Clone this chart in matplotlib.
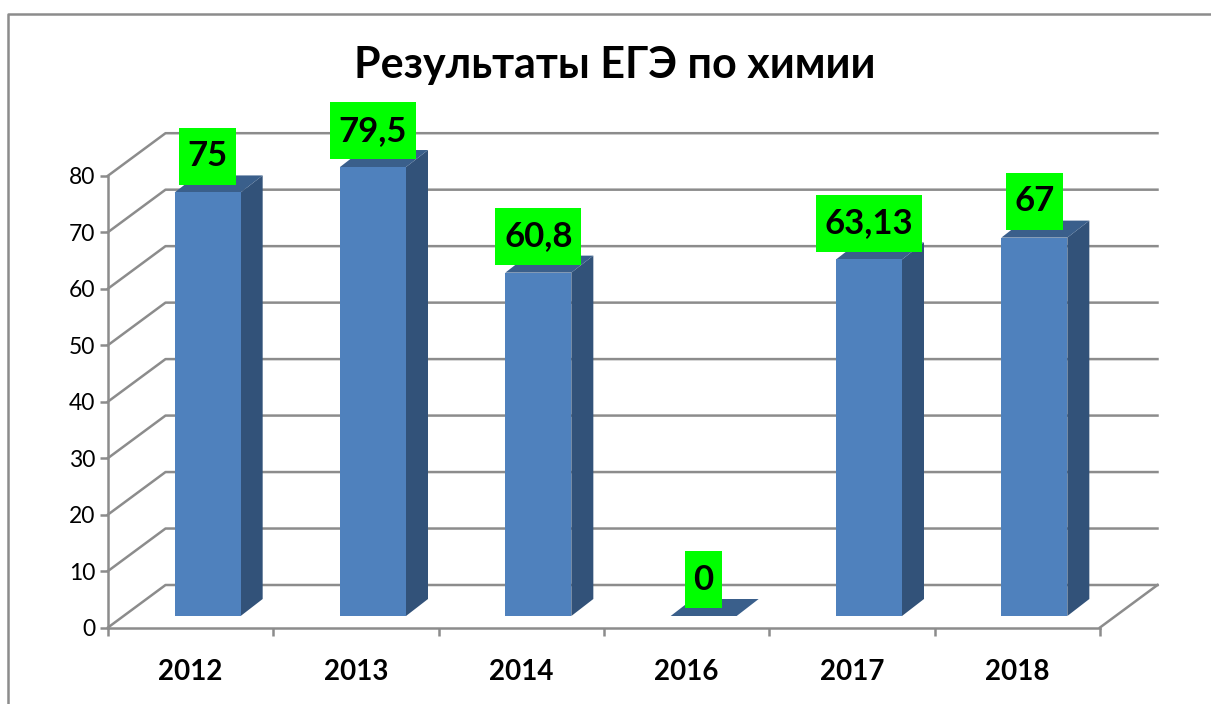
import numpy as np
import matplotlib.pyplot as plt
from matplotlib.patches import Polygon
from matplotlib.lines import Line2D

plt.rcParams['font.family'] = ['Lato', 'Open Sans', 'DejaVu Sans']

years = ['2012', '2013', '2014', '2016', '2017', '2018']
scores = [75, 79.5, 60.8, 0, 63.13, 67]
score_labels = ['75', '79,5', '60,8', '0', '63,13', '67']
yticks = [0, 10, 20, 30, 40, 50, 60, 70, 80]

W, H = 1211, 704
grey = '#8c8c8c'
front = '#4f81bd'
side = '#325279'
top = '#3a5f8b'

# axes box in pixels, everything inside goes through the data scale
left, right = 108, 1100
y0, y80 = 627.5, 175.7

fig = plt.figure(figsize=(W/100, H/100), dpi=100)
ax = fig.add_axes([left/W, 1-y0/H, (right-left)/W, (y0-y80)/H])
ax.set_xlim(0, 6)
ax.set_ylim(0, 80)
ax.patch.set_visible(False)

xunit = (right-left)/6.0
yunit = (y0-y80)/80.0

# depth of the fake 3d box
wall_dx = 57.5/xunit
wall_dy = 42.5/yunit
bar_dx = 22/xunit
bar_dy = 17/yunit
lift_dx = 17/xunit
lift_dy = 11.5/yunit
bar_w = 66/xunit

# back wall grid
for v in yticks:
    ax.plot([0, wall_dx, 6+wall_dx], [v, v+wall_dy, v+wall_dy], color=grey, lw=1.8, clip_on=False, zorder=1)
ax.plot([6, 6+wall_dx], [0, wall_dy], color=grey, lw=1.8, clip_on=False, zorder=1)

# bars
xs = np.arange(6)+0.5+lift_dx
hs = np.array(scores)
for x, h in zip(xs, hs):
    x0 = x-bar_w/2
    x1 = x+bar_w/2
    b = lift_dy
    t = b+h
    ax.add_patch(Polygon([[x1, b], [x1+bar_dx, b+bar_dy], [x1+bar_dx, t+bar_dy], [x1, t]],
                         fc=side, ec='none', clip_on=False, zorder=3))
    ax.add_patch(Polygon([[x0, t], [x1, t], [x1+bar_dx, t+bar_dy], [x0+bar_dx, t+bar_dy]],
                         fc=top, ec='none', clip_on=False, zorder=3))
ax.bar(xs, hs, width=bar_w, bottom=lift_dy, color=front, linewidth=0, clip_on=False, zorder=4)

# green value boxes
for x, h, lab in zip(xs, hs, score_labels):
    ax.annotate(lab, (x, lift_dy+h), xytext=(0, 28.3), textcoords='offset points',
                ha='center', va='center_baseline', fontsize=25, fontweight='bold', color='black',
                bbox=dict(boxstyle='square,pad=0.25', mutation_aspect=1.43, fc='#00ff00', ec='none'),
                zorder=6, annotation_clip=False)

for s in ['top', 'right']:
    ax.spines[s].set_visible(False)
for s in ['left', 'bottom']:
    ax.spines[s].set_color(grey)
    ax.spines[s].set_linewidth(1.8)
    ax.spines[s].set_zorder(2)

ax.set_yticks(yticks)
ax.tick_params(axis='y', length=6, width=1.8, color=grey, labelsize=16.5, pad=3)
ax.set_xticks(np.arange(7))
ax.set_xticklabels([])
ax.tick_params(axis='x', which='major', length=6, width=1.8, color=grey)
ax.set_xticks(np.arange(6)+0.5, minor=True)
ax.set_xticklabels(years, minor=True, fontsize=20, fontweight='bold')
ax.tick_params(axis='x', which='minor', length=0, pad=23)

fig.text(615/W, 1-65/H, 'Результаты ЕГЭ по химии', ha='center', va='center', fontsize=31, fontweight='bold')

# chart border, runs off the page
fig.add_artist(Line2D([8/W, 8/W, 1], [0, 1-13.5/H, 1-13.5/H], color=grey, lw=1.8))

fig.savefig('out.png', dpi=100)
